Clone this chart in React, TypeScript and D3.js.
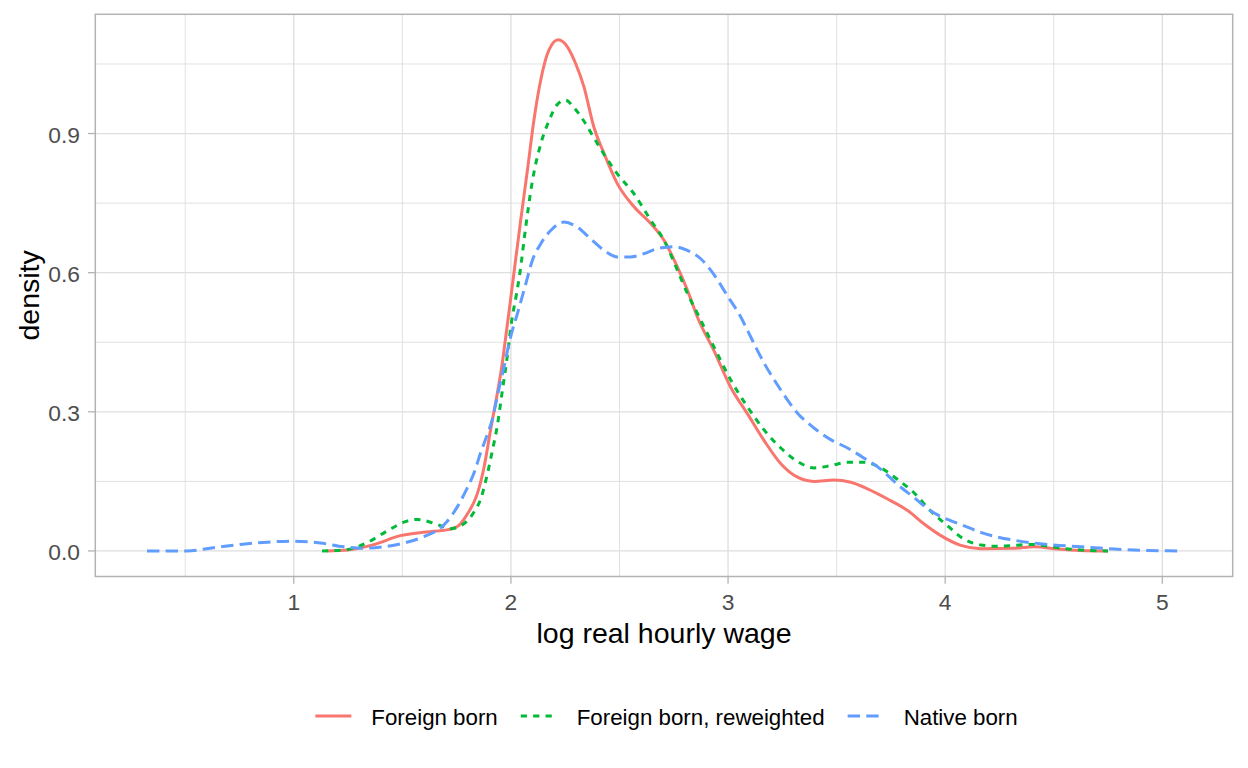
import React from "react";
import * as d3 from "d3";

// ---- data ----
const seriesNames = ["Foreign born", "Foreign born, reweighted", "Native born"];
const seriesColors = ["#F8766D", "#00BA38", "#619CFF"];

const foreignBorn: [number, number][] = [
  [1.15, 0], [1.25, 0.002], [1.37, 0.014], [1.49, 0.033], [1.61, 0.041], [1.71, 0.046],
  [1.76, 0.055], [1.8, 0.08], [1.845, 0.123], [1.876, 0.18], [1.906, 0.26], [1.937, 0.339],
  [1.96, 0.404], [1.976, 0.461], [1.991, 0.515], [2.01, 0.585], [2.045, 0.713], [2.076, 0.821],
  [2.106, 0.929], [2.137, 1.015], [2.175, 1.08], [2.218, 1.102], [2.26, 1.087], [2.298, 1.051],
  [2.336, 1.001], [2.382, 0.914], [2.429, 0.857], [2.49, 0.792], [2.567, 0.742], [2.644, 0.706],
  [2.705, 0.67], [2.767, 0.612], [2.813, 0.562], [2.859, 0.504], [2.935, 0.432], [3.012, 0.353],
  [3.089, 0.296], [3.166, 0.238], [3.243, 0.188], [3.32, 0.159], [3.396, 0.15], [3.488, 0.153],
  [3.565, 0.148], [3.642, 0.134], [3.735, 0.112], [3.827, 0.087], [3.903, 0.058], [3.98, 0.033],
  [4.072, 0.012], [4.164, 0.005], [4.318, 0.006], [4.41, 0.009], [4.518, 0.004], [4.62, 0.001],
  [4.75, 0],
];

const foreignBornReweighted: [number, number][] = [
  [1.13, 0], [1.246, 0.003], [1.338, 0.018], [1.43, 0.043], [1.507, 0.062], [1.569, 0.068],
  [1.615, 0.064], [1.661, 0.057], [1.722, 0.048], [1.768, 0.054], [1.83, 0.084], [1.86, 0.111],
  [1.891, 0.165], [1.914, 0.215], [1.937, 0.269], [1.96, 0.344], [1.983, 0.419], [2.002, 0.491],
  [2.026, 0.555], [2.04, 0.595], [2.068, 0.698], [2.099, 0.798], [2.137, 0.877], [2.175, 0.927],
  [2.214, 0.963], [2.252, 0.972], [2.29, 0.956], [2.336, 0.927], [2.382, 0.891], [2.428, 0.856],
  [2.49, 0.813], [2.567, 0.77], [2.644, 0.713], [2.705, 0.67], [2.767, 0.605], [2.813, 0.555],
  [2.859, 0.512], [2.935, 0.44], [3.012, 0.369], [3.089, 0.311], [3.166, 0.261], [3.243, 0.222],
  [3.32, 0.193], [3.396, 0.179], [3.473, 0.184], [3.55, 0.191], [3.627, 0.191], [3.704, 0.179],
  [3.781, 0.154], [3.857, 0.125], [3.934, 0.086], [4.011, 0.054], [4.088, 0.025], [4.164, 0.013],
  [4.241, 0.01], [4.318, 0.012], [4.395, 0.014], [4.472, 0.01], [4.549, 0.005], [4.626, 0.002],
  [4.75, 0],
];

const nativeBorn: [number, number][] = [
  [0.324, 0], [0.508, 0], [0.631, 0.007], [0.754, 0.014], [0.877, 0.019], [1.0, 0.021],
  [1.123, 0.017], [1.23, 0.009], [1.323, 0.006], [1.415, 0.009], [1.507, 0.017], [1.6, 0.031],
  [1.677, 0.05], [1.707, 0.064], [1.753, 0.095], [1.799, 0.136], [1.83, 0.168], [1.86, 0.211],
  [1.891, 0.251], [1.914, 0.283], [1.937, 0.333], [1.968, 0.397], [1.999, 0.462], [2.03, 0.512],
  [2.068, 0.575], [2.099, 0.627], [2.137, 0.662], [2.183, 0.691], [2.245, 0.709], [2.306, 0.698],
  [2.367, 0.673], [2.429, 0.648], [2.49, 0.634], [2.552, 0.634], [2.613, 0.641], [2.675, 0.652],
  [2.751, 0.656], [2.813, 0.648], [2.874, 0.63], [2.935, 0.596], [2.997, 0.55], [3.058, 0.505],
  [3.089, 0.476], [3.166, 0.405], [3.243, 0.347], [3.32, 0.297], [3.396, 0.265], [3.473, 0.24],
  [3.55, 0.222], [3.627, 0.2], [3.704, 0.176], [3.781, 0.143], [3.857, 0.115], [3.934, 0.086],
  [4.011, 0.068], [4.088, 0.054], [4.164, 0.04], [4.241, 0.03], [4.318, 0.023], [4.472, 0.014],
  [4.626, 0.009], [4.78, 0.004], [4.934, 0.001], [5.086, 0],
];

const allSeries = [foreignBorn, foreignBornReweighted, nativeBorn];

const xTicks = [1, 2, 3, 4, 5];
const xMinor = [0.5, 1.5, 2.5, 3.5, 4.5];
const yTicks = [0, 0.3, 0.6, 0.9];
const yMinor = [0.15, 0.45, 0.75, 1.05];
const xTitle = "log real hourly wage";
const yTitle = "density";

// ---- layout ----
const W = 1248;
const H = 768;
const panel = { left: 95.3, right: 1232.7, top: 14.3, bottom: 576.5 };
const FONT = "'Liberation Sans', Arial, Helvetica, sans-serif";
const tickFs = 22.8;
const legendFs = 22.3;
const titleFs = 28.5;
const dashes = ["none", "6.2,6.2", "12.4,6.2"];

function measure(text: string, fs: number): number {
  if (typeof document === "undefined") return text.length * fs * 0.5;
  const c = document.createElement("canvas");
  const ctx = c.getContext("2d");
  if (!ctx) return text.length * fs * 0.5;
  ctx.font = `${fs}px 'Liberation Sans', Arial, sans-serif`;
  return ctx.measureText(text).width;
}

export default function App() {
  const allX = allSeries.flat().map((d) => d[0]);
  const allY = allSeries.flat().map((d) => d[1]);
  const [xmin, xmax] = d3.extent(allX) as [number, number];
  const ymax = d3.max(allY) as number;
  const xr = xmax - xmin;
  const x = d3
    .scaleLinear()
    .domain([xmin - 0.05 * xr, xmax + 0.05 * xr])
    .range([panel.left, panel.right]);
  const y = d3
    .scaleLinear()
    .domain([-0.05 * ymax, ymax * 1.05])
    .range([panel.bottom, panel.top]);

  const line = d3
    .line<[number, number]>()
    .x((d) => x(d[0]))
    .y((d) => y(d[1]))
    .curve(d3.curveMonotoneX);

  // legend layout
  const keyW = 36;
  const keyGap = 20;
  const itemGap = 23;
  const widths = seriesNames.map((n) => measure(n, legendFs));
  const total =
    widths.reduce((a, w) => a + keyW + keyGap + w, 0) + itemGap * (seriesNames.length - 1);
  let cursor = 666.5 - total / 2;
  const legendItems = seriesNames.map((n, i) => {
    const item = { name: n, keyX: cursor, textX: cursor + keyW + keyGap, i };
    cursor += keyW + keyGap + widths[i] + itemGap;
    return item;
  });
  const legendY = 716;

  return (
    <svg
      width={W}
      height={H}
      viewBox={`0 0 ${W} ${H}`}
      style={{ position: "absolute", left: 0, top: 0, background: "#fff" }}
      fontFamily={FONT}
    >
      <rect x={0} y={0} width={W} height={H} fill="#fff" />
      {/* minor grid */}
      {xMinor.map((v) => (
        <line key={"xm" + v} x1={x(v)} x2={x(v)} y1={panel.top} y2={panel.bottom} stroke="#DEDEDE" strokeWidth={0.9} />
      ))}
      {yMinor.map((v) => (
        <line key={"ym" + v} x1={panel.left} x2={panel.right} y1={y(v)} y2={y(v)} stroke="#DEDEDE" strokeWidth={0.9} />
      ))}
      {/* major grid */}
      {xTicks.map((v) => (
        <line key={"xg" + v} x1={x(v)} x2={x(v)} y1={panel.top} y2={panel.bottom} stroke="#DEDEDE" strokeWidth={1.3} />
      ))}
      {yTicks.map((v) => (
        <line key={"yg" + v} x1={panel.left} x2={panel.right} y1={y(v)} y2={y(v)} stroke="#DEDEDE" strokeWidth={1.3} />
      ))}

      <defs>
        <clipPath id="panelClip">
          <rect x={panel.left} y={panel.top} width={panel.right - panel.left} height={panel.bottom - panel.top} />
        </clipPath>
      </defs>

      {/* density lines */}
      <g clipPath="url(#panelClip)">
        {allSeries.map((s, i) => (
          <path
            key={"s" + i}
            d={line(s) || ""}
            fill="none"
            stroke={seriesColors[i]}
            strokeWidth={3}
            strokeDasharray={dashes[i]}
            strokeLinejoin="round"
          />
        ))}
      </g>

      {/* panel border */}
      <rect
        x={panel.left}
        y={panel.top}
        width={panel.right - panel.left}
        height={panel.bottom - panel.top}
        fill="none"
        stroke="#B3B3B3"
        strokeWidth={1.5}
      />

      {/* x axis ticks */}
      {xTicks.map((v) => (
        <g key={"xt" + v}>
          <line x1={x(v)} x2={x(v)} y1={panel.bottom} y2={panel.bottom + 7.3} stroke="#B3B3B3" strokeWidth={1.3} />
          <text x={x(v)} y={panel.bottom + 33} textAnchor="middle" fontSize={tickFs} fill="#4D4D4D">
            {String(v)}
          </text>
        </g>
      ))}
      {/* y axis ticks */}
      {yTicks.map((v) => (
        <g key={"yt" + v}>
          <line x1={panel.left - 7.3} x2={panel.left} y1={y(v)} y2={y(v)} stroke="#B3B3B3" strokeWidth={1.3} />
          <text x={80} y={y(v) + 9.3} textAnchor="end" fontSize={tickFs} fill="#4D4D4D">
            {d3.format(".1f")(v)}
          </text>
        </g>
      ))}

      {/* axis titles */}
      <text
        x={(panel.left + panel.right) / 2}
        y={643}
        textAnchor="middle"
        fontSize={titleFs}
        fill="#000"
      >
        {xTitle}
      </text>
      <text
        transform={`translate(39,${(panel.top + panel.bottom) / 2}) rotate(-90)`}
        textAnchor="middle"
        fontSize={titleFs}
        fill="#000"
      >
        {yTitle}
      </text>

      {/* legend */}
      {legendItems.map((it) => (
        <g key={"lg" + it.i}>
          <line
            x1={it.keyX}
            x2={it.keyX + keyW}
            y1={legendY}
            y2={legendY}
            stroke={seriesColors[it.i]}
            strokeWidth={3.2}
            strokeDasharray={dashes[it.i]}
          />
          <text x={it.textX} y={legendY + 8.5} fontSize={legendFs} fill="#000">
            {it.name}
          </text>
        </g>
      ))}
    </svg>
  );
}
